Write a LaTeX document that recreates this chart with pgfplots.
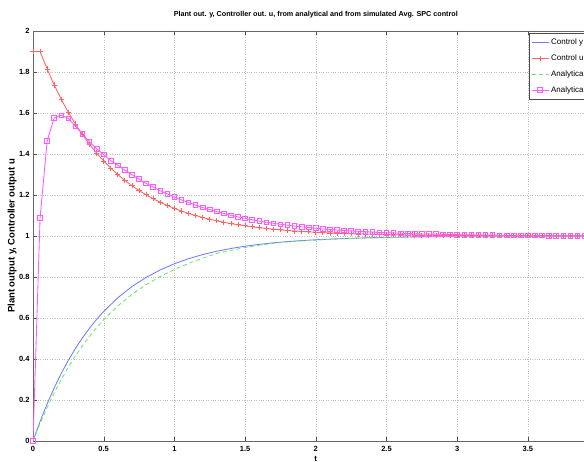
\documentclass[border=0pt]{standalone}
\usepackage{pgfplots}
\pgfplotsset{compat=1.18}
\usepackage{fontspec}
\setmainfont{Liberation Sans}

\definecolor{cy}{RGB}{120,120,255}
\definecolor{cu}{RGB}{255,100,100}
\definecolor{ay}{RGB}{110,230,110}
\definecolor{au}{RGB}{255,90,255}

\begin{document}
\begin{tikzpicture}
\path[use as bounding box] (-33pt,-20pt) rectangle (551pt,441pt);
\clip (-33pt,-20pt) rectangle (551pt,441pt);
\begin{axis}[
  scale only axis,
  width=565.6pt, height=410pt,
  xmin=0, xmax=4, ymin=0, ymax=2,
  xtick={0,0.5,...,3.5}, ytick={0,0.2,...,2},
  tick align=inside, major tick length=4pt,
  tick style={black!70},
  axis line style={black!60, line width=0.7pt},
  grid=major, grid style={dotted, black!25},
  /pgf/number format/assume math mode=true,
  tick label style={font=\fontsize{7.5}{8}\selectfont\bfseries},
  xticklabel style={yshift=-2pt},
  yticklabel style={xshift=0pt},
  title={Plant out. y, Controller out. u, from analytical and from simulated Avg. SPC control},
  title style={font=\fontsize{7.2}{8}\selectfont\bfseries, at={(0.5,1)}, anchor=base, yshift=8pt},
  ylabel={Plant output y, Controller output u},
  ylabel style={font=\fontsize{9.5}{10}\selectfont\bfseries, at={(rel axis cs:-0.037,0.5)}, anchor=center},
  xlabel={t},
  xlabel style={font=\fontsize{8}{9}\selectfont\bfseries, at={(rel axis cs:0.5,0)}, anchor=center, yshift=-18pt},
  legend style={at={(0.877,0.9944)}, anchor=north west, font=\fontsize{8}{9}\selectfont,
    draw=black!70, fill=white, row sep=4.5pt, inner ysep=3.5pt, inner xsep=2pt},
  legend cell align=left,
]
\addplot[cy, line width=0.85pt] coordinates {
(0,0) (0.05,0.0952) (0.1,0.1813) (0.15,0.2592) (0.2,0.3297) (0.25,0.3935)
(0.3,0.4512) (0.35,0.5034) (0.4,0.5507) (0.45,0.5934) (0.5,0.6321)
(0.6,0.6988) (0.7,0.7534) (0.8,0.7981) (0.9,0.8347) (1.0,0.8647)
(1.1,0.8892) (1.2,0.9093) (1.3,0.9257) (1.4,0.9392) (1.5,0.9502)
(1.6,0.9592) (1.7,0.9666) (1.8,0.9727) (1.9,0.9776) (2.0,0.9817)
(2.2,0.9877) (2.4,0.9918) (2.6,0.9945) (2.8,0.9963) (3.0,0.9975)
(3.2,0.9983) (3.4,0.9989) (3.6,0.9993) (3.8,0.9995) (4.0,0.9997)
};
\addlegendentry{Control y}
\addplot[cu, line width=0.85pt, mark=+, mark size=2.6pt] coordinates {
(0,1.9) (0.05,1.9) (0.1,1.8144) (0.15,1.7369) (0.2,1.6667) (0.25,1.6033)
(0.3,1.5459) (0.35,1.4939) (0.4,1.4469) (0.45,1.4044) (0.5,1.3659)
(0.55,1.3311) (0.6,1.2996) (0.65,1.2711) (0.7,1.2453) (0.75,1.2219)
(0.8,1.2008) (0.85,1.1817) (0.9,1.1644) (0.95,1.1488) (1.0,1.1346)
(1.05,1.1218) (1.1,1.1102) (1.15,1.0997) (1.2,1.0903) (1.25,1.0816)
(1.3,1.0739) (1.35,1.0669) (1.4,1.0605) (1.45,1.0547) (1.5,1.0495)
(1.55,1.0448) (1.6,1.0405) (1.65,1.0367) (1.7,1.0332) (1.75,1.0301)
(1.8,1.0272) (1.85,1.0246) (1.9,1.0222) (1.95,1.0202) (2.0,1.0182)
(2.05,1.0165) (2.1,1.0149) (2.15,1.0135) (2.2,1.0122) (2.25,1.0111)
(2.3,1.0100) (2.35,1.0091) (2.4,1.0082) (2.45,1.0074) (2.5,1.0067)
(2.55,1.0061) (2.6,1.0055) (2.65,1.0050) (2.7,1.0045) (2.75,1.0041)
(2.8,1.0037) (2.85,1.0033) (2.9,1.0030) (2.95,1.0027) (3.0,1.0025)
(3.05,1.0022) (3.1,1.0020) (3.15,1.0018) (3.2,1.0017) (3.25,1.0015)
(3.3,1.0014) (3.35,1.0012) (3.4,1.0011) (3.45,1.0010) (3.5,1.0009)
(3.55,1.0008) (3.6,1.0007) (3.65,1.0007) (3.7,1.0006) (3.75,1.0005)
(3.8,1.0005) (3.85,1.0004) (3.9,1.0004) (3.95,1.0003) (4.0,1.0003)
};
\addlegendentry{Control u}
\addplot[ay, line width=0.85pt, dash pattern=on 4pt off 3pt] coordinates {
(0,0) (0.05,0.0852) (0.1,0.1633) (0.15,0.2348) (0.2,0.3002) (0.25,0.3601)
(0.3,0.4150) (0.35,0.4652) (0.4,0.5112) (0.45,0.5532) (0.5,0.5916)
(0.6,0.6590) (0.7,0.7154) (0.8,0.7626) (0.9,0.8020) (1.0,0.8370)
(1.1,0.8660) (1.2,0.8920) (1.3,0.9150) (1.4,0.9300) (1.5,0.9440)
(1.6,0.9550) (1.7,0.9640) (1.8,0.9710) (1.9,0.9760) (2.0,0.9800)
(2.2,0.9870) (2.4,0.9910) (2.6,0.9940) (2.8,0.9960) (3.0,0.9972)
(3.2,0.9980) (3.4,0.9986) (3.6,0.9990) (3.8,0.9993) (4.0,0.9995)
};
\addlegendentry{Analytical y}
\addplot[au, line width=0.85pt, mark=square, mark size=2.3pt] coordinates {
(0,0) (0.05,1.088) (0.1,1.463) (0.15,1.576) (0.2,1.589) (0.25,1.573)
(0.3,1.535) (0.35,1.497) (0.4,1.459) (0.45,1.425) (0.5,1.397)
(0.55,1.367) (0.6,1.345) (0.65,1.321) (0.7,1.298) (0.75,1.277)
(0.8,1.257) (0.85,1.239) (0.9,1.221) (0.95,1.205) (1.0,1.190)
(1.05,1.176) (1.1,1.163) (1.15,1.151) (1.2,1.139) (1.25,1.129)
(1.3,1.119) (1.35,1.110) (1.4,1.101) (1.45,1.093) (1.5,1.086)
(1.55,1.079) (1.6,1.073) (1.65,1.067) (1.7,1.062) (1.75,1.057)
(1.8,1.053) (1.85,1.048) (1.9,1.045) (1.95,1.041) (2.0,1.038)
(2.05,1.034) (2.1,1.032) (2.15,1.029) (2.2,1.027) (2.25,1.025)
(2.3,1.023) (2.35,1.021) (2.4,1.019) (2.45,1.017) (2.5,1.016)
(2.55,1.015) (2.6,1.0135) (2.65,1.012) (2.7,1.011) (2.75,1.010)
(2.8,1.0095) (2.85,1.009) (2.9,1.008) (2.95,1.007) (3.0,1.0067)
(3.05,1.006) (3.1,1.0055) (3.15,1.005) (3.2,1.0045) (3.25,1.004)
(3.3,1.0037) (3.35,1.0034) (3.4,1.003) (3.45,1.0028) (3.5,1.0025)
(3.55,1.0023) (3.6,1.002) (3.65,1.0018) (3.7,1.0016) (3.75,1.0015)
(3.8,1.0013) (3.85,1.0012) (3.9,1.0011) (3.95,1.001) (4.0,1.0009)
};
\addlegendentry{Analytical u}
\end{axis}
\end{tikzpicture}
\end{document}
